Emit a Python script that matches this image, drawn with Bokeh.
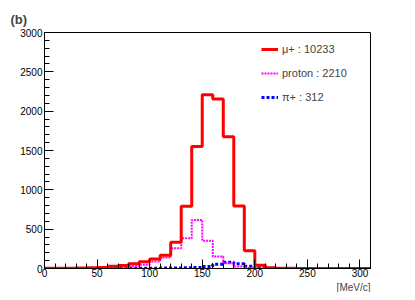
from bokeh.plotting import figure
from bokeh.models import SingleIntervalTicker, Legend, Range1d, Title
from bokeh.embed import file_html
from bokeh.resources import INLINE

# Bin left edges (MeV/c), 10 MeV/c bins from 0 to 310
bin_edges = list(range(0, 320, 10))

mu_plus = [2, 2, 3, 5, 8, 12, 30, 38, 60, 85, 120, 170, 335, 790, 1550, 2210,
           2155, 1675, 795, 225, 40, 8, 3, 2, 1, 1, 1, 0, 0, 0, 0]
proton = [0, 1, 1, 2, 3, 4, 10, 15, 30, 47, 89, 140, 258, 385, 618, 352,
          152, 67, 25, 8, 3, 0, 0, 0, 0, 0, 0, 0, 0, 0, 0]
pi_plus = [0, 0, 1, 1, 1, 2, 2, 2, 2, 3, 4, 5, 6, 8, 13, 25,
           55, 80, 60, 29, 10, 3, 1, 0, 0, 0, 0, 0, 0, 0, 0]

labels = ["\u03bc+ : 10233", "proton : 2210", "\u03c0+ : 312"]
FONT = "Liberation Sans"

W, H = 405, 292
p = figure(width=W, height=H, output_backend="svg", toolbar_location=None,
           x_range=Range1d(0, 310), y_range=Range1d(0, 3000),
           min_border_left=44, min_border_right=35, min_border_top=32, min_border_bottom=24)
p.outline_line_color = "black"
p.outline_line_width = 1
p.xgrid.visible = False
p.ygrid.visible = False

p.xaxis.ticker = SingleIntervalTicker(interval=50, num_minor_ticks=5)
p.yaxis.ticker = SingleIntervalTicker(interval=500, num_minor_ticks=5)
for ax in (p.xaxis, p.yaxis):
    ax.major_tick_in = 9
    ax.major_tick_out = 0
    ax.minor_tick_in = 5
    ax.minor_tick_out = 0
    ax.axis_line_color = "black"
    ax.major_tick_line_color = "black"
    ax.minor_tick_line_color = "black"
    ax.major_label_text_font = FONT
    ax.major_label_text_font_size = "10px"
    ax.major_label_text_color = "black"
p.xaxis.major_label_standoff = 0
p.yaxis.major_label_standoff = 2

def ext(v):
    return v + [v[-1]]

r3 = p.step(x=bin_edges, y=ext(pi_plus), mode="after", line_color="#0000ff", line_width=3, line_dash="3 2")
r2 = p.step(x=bin_edges, y=ext(proton), mode="after", line_color="#ff00ff", line_width=2, line_dash="2 1")
r1 = p.step(x=bin_edges, y=ext(mu_plus), mode="after", line_color="#ff0000", line_width=3)

legend = Legend(items=[(labels[0], [r1]), (labels[1], [r2]), (labels[2], [r3])],
                location=(217, 164), padding=0, margin=0, spacing=10,
                glyph_width=17, glyph_height=14, label_height=14, label_standoff=4,
                label_text_font=FONT, label_text_font_size="11px",
                border_line_alpha=0, background_fill_alpha=0)
p.add_layout(legend)

p.add_layout(Title(text="(b)", align="left", offset=-34, standoff=12,
                   text_font=FONT, text_font_size="13px", text_font_style="bold"), "above")
p.add_layout(Title(text="[MeV/c]", align="right", offset=0, standoff=0,
                   text_font=FONT, text_font_size="10px", text_font_style="normal"), "below")

open("out.html", "w").write(file_html(p, INLINE))
